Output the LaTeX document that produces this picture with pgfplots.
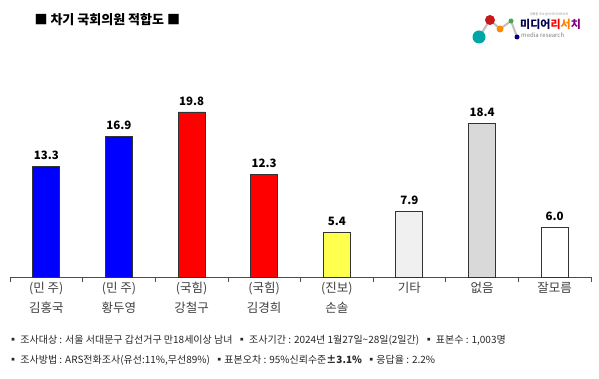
\documentclass[border=0pt]{standalone}
\usepackage{pgfplots}
\pgfplotsset{compat=1.18}
\usepackage{fontspec}
\setmainfont{Noto Sans CJK KR}
\definecolor{lblgray}{HTML}{404040}
\definecolor{cyel}{HTML}{FFFF4D}
\definecolor{cgi}{HTML}{F0F0F0}
\definecolor{cnone}{HTML}{D9D9D9}
\begin{document}
\begin{tikzpicture}[x=1pt,y=1pt]
\useasboundingbox (0,0) rectangle (599,379);
\fill[white] (0,0) rectangle (599,379);
\begin{axis}[
  at={(10pt,102pt)}, anchor=south west,
  scale only axis, width=581pt, height=200pt,
  xmin=-0.5, xmax=7.5, ymin=0, ymax=24,
  axis y line=none, axis x line*=bottom,
  x axis line style={-, black!70, line width=0.8pt},
  xtick={0,...,7}, 
  xticklabels={{(민 주)\\김홍국},{(민 주)\\황두영},{(국힘)\\강철구},{(국힘)\\김경희},{(진보)\\손솔},{기타},{없음},{잘모름}},
  xticklabel style={align=center, font=\fontsize{12.5}{20}\selectfont, text=lblgray, yshift=-2pt},
  major tick length=0pt,
  extra x ticks={-0.5,0.5,...,7.5}, extra x tick labels={},
  extra x tick style={major tick length=5pt, tick style={black!70, line width=0.6pt}, tick align=outside},
  ybar, bar width=27pt, bar shift=0pt,
  clip=false,
  nodes near coords, point meta=explicit symbolic,
  every node near coord/.style={font=\bfseries\fontsize{11.5}{12}\selectfont, black, yshift=3pt},
]
\addplot[fill=blue, draw=black!80, line width=0.9pt] coordinates {(0,13.3)[13.3] (1,16.9)[16.9]};
\addplot[fill=red, draw=black!80, line width=0.9pt] coordinates {(2,19.8)[19.8] (3,12.3)[12.3]};
\addplot[fill=cyel, draw=black!80, line width=0.9pt] coordinates {(4,5.4)[5.4]};
\addplot[fill=cgi, draw=black!80, line width=0.9pt] coordinates {(5,7.9)[7.9]};
\addplot[fill=cnone, draw=black!80, line width=0.9pt] coordinates {(6,18.4)[18.4]};
\addplot[fill=white, draw=black!80, line width=0.9pt] coordinates {(7,6.0)[6.0]};
\end{axis}
% title
\node[anchor=west, font=\bfseries\fontsize{13}{15}\selectfont] at (31,359) {■ 차기 국회의원 적합도 ■};
% footnotes
\node[anchor=west, font=\fontsize{10}{11}\selectfont, text=black!85, inner sep=0pt] at (8,39) {▪ 조사대상 : 서울 서대문구 갑선거구 만18세이상 남녀 \ ▪ 조사기간 : 2024년 1월27일\textasciitilde28일(2일간) \ ▪ 표본수 : 1,003명};
\node[anchor=west, font=\fontsize{10}{11}\selectfont, text=black!85, inner sep=0pt] at (8,19) {▪ 조사방법 : ARS전화조사(유선:11\%,무선89\%) \ ▪표본오차 : 95\%신뢰수준\textbf{±3.1\%} \ ▪응답율 : 2.2\%};
% logo
\draw[gray!50, line width=2pt] (479,342) -- (490,359) -- (500,350) -- (511,358) -- (517,342);
\fill[teal!70!cyan] (479,342) circle (6.5);
\fill[red!75!black!90] (490,359) circle (5);
\fill[orange!90!yellow] (500,350) circle (3.5);
\fill[green!50!black!70] (511,358) circle (2.5);
\fill[blue!50!black] (517,342) circle (2.5);
\node[anchor=west, inner sep=0pt, font=\bfseries\fontsize{11}{12}\selectfont] at (520,355) {\textcolor{blue!30!black}{미디어}\textcolor{red}{리}\textcolor{orange}{서}\textcolor{violet}{치}};
\node[anchor=west, inner sep=0pt, font=\fontsize{6}{7}\selectfont, text=gray] at (521,344) {media research};
\node[anchor=west, inner sep=0pt, font=\fontsize{3}{4}\selectfont, text=gray] at (530,365) {정확한 조사 분석 미디어리서치};
\end{tikzpicture}
\end{document}
